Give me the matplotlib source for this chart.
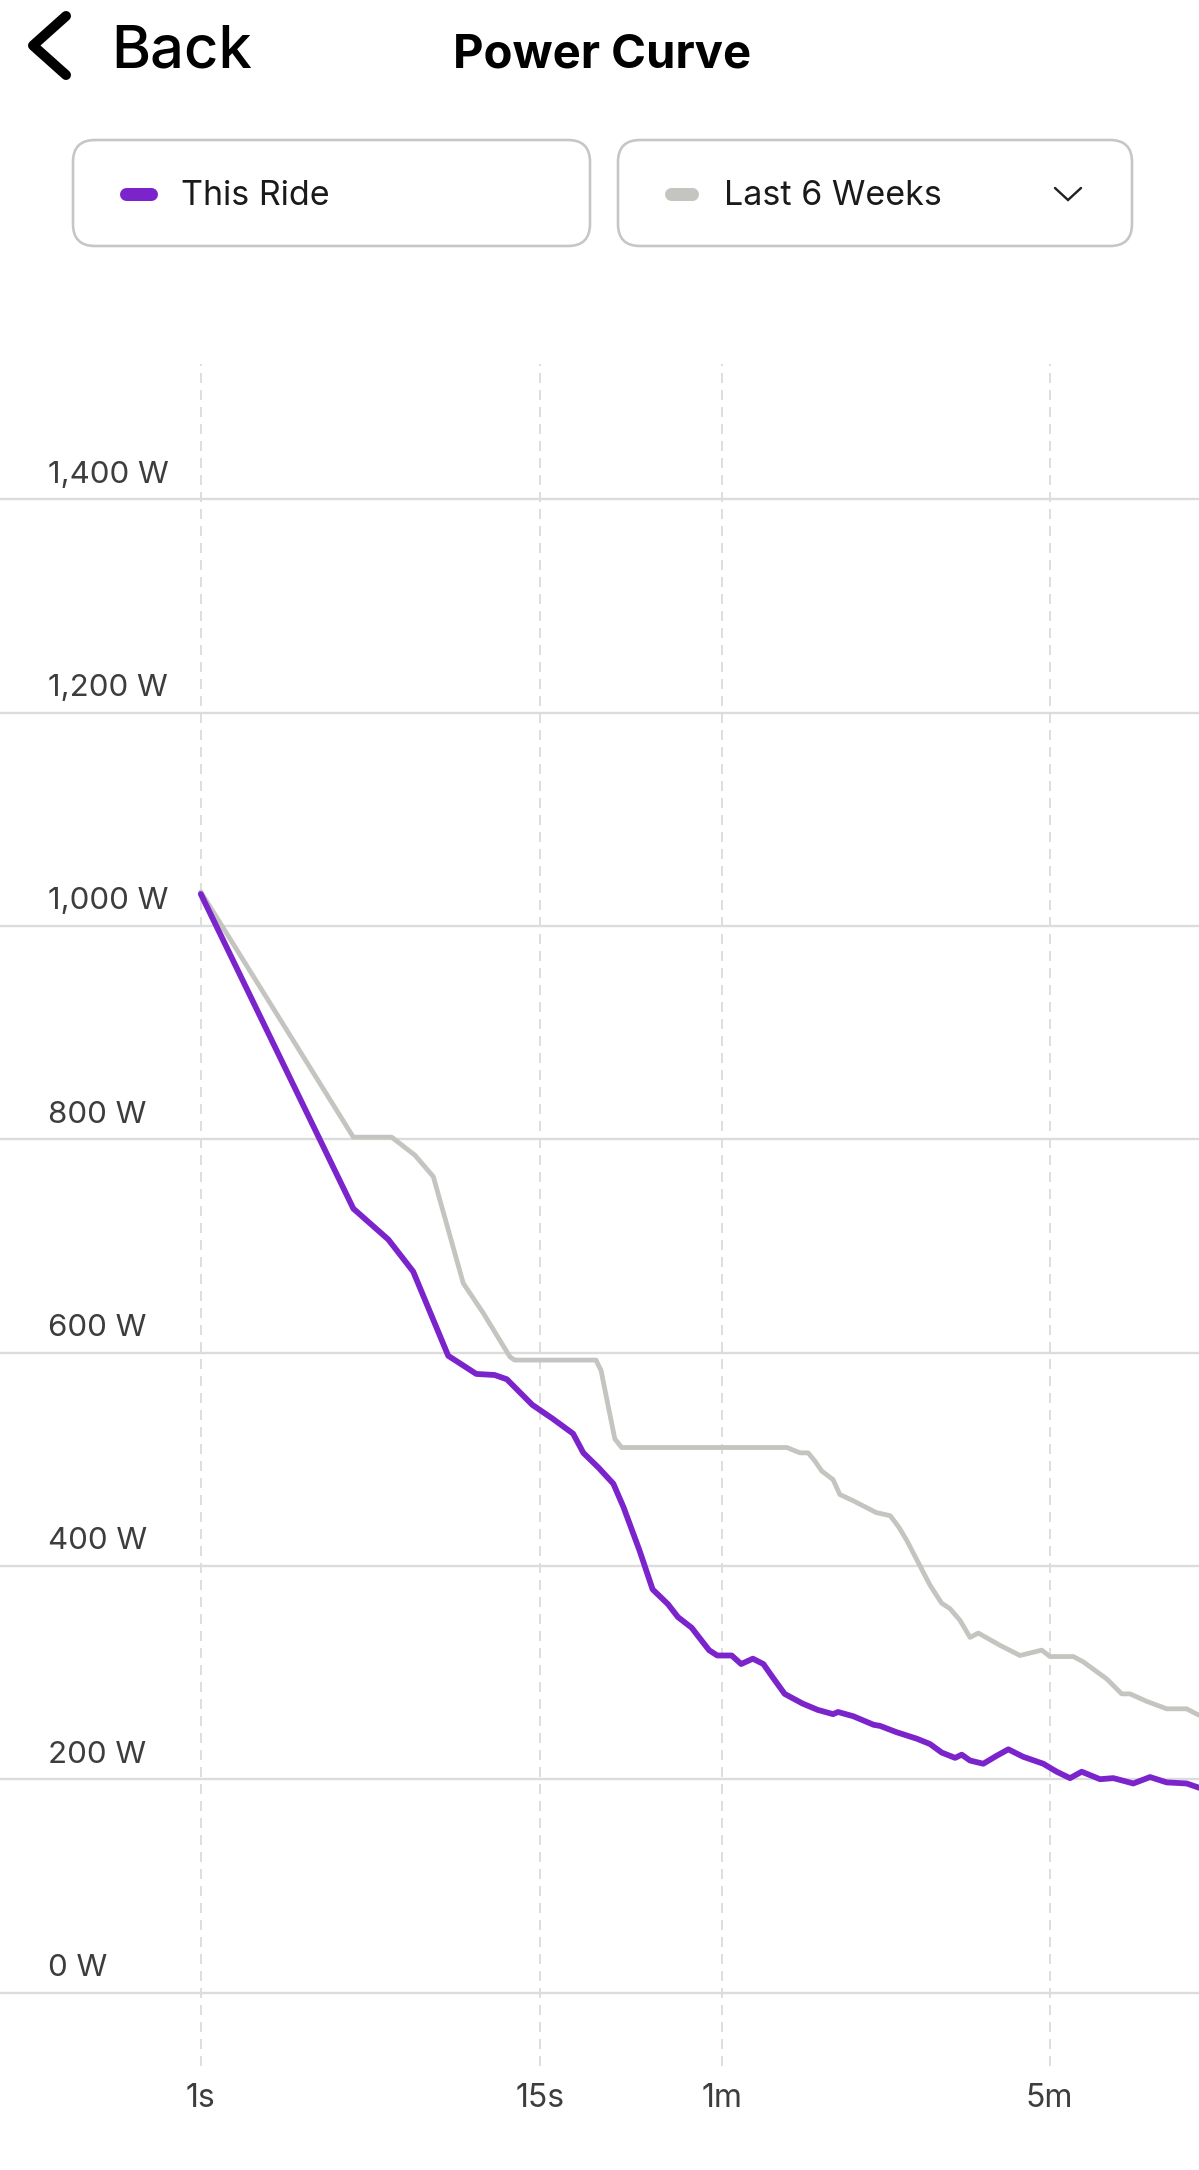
import numpy as np
import matplotlib
matplotlib.use('Agg')
import matplotlib.pyplot as plt
from matplotlib.patches import FancyBboxPatch
from matplotlib.transforms import blended_transform_factory

plt.rcParams['font.family'] = ['Inter', 'DejaVu Sans']

# ---------------- data ----------------
ride_seconds = [1.0, 3.38, 4.47, 5.45, 7.21, 9.02, 10.44, 11.51, 14.11, 16.52,
                19.29, 20.85, 23.42, 26.2, 28.3, 32.0, 35.3, 39.7, 42.8, 47.5,
                54.2, 57.7, 62.8, 65.8, 69.7, 73.4, 77.0, 81.5, 88.95, 95.9,
                103.4, 106.0, 114.3, 126.3, 130.3, 141.5, 156.1, 166.6, 176.5, 188.5,
                194.8, 202.9, 216.6, 231.4, 245.0, 263.7, 291.0, 310.9, 331.9, 351.5,
                384.7, 410.8, 453.1, 492.0, 534.0, 589.0, 626.0]
ride_watts = [1030, 735, 706, 676, 597, 580, 579, 575, 551, 538,
              524, 506, 492, 477, 455, 414, 378, 364, 352, 342,
              321, 316, 316, 308, 313, 308, 295, 280, 271, 265,
              261, 263, 259, 251, 250, 244, 238, 233, 225, 220,
              223, 217.5, 214.5, 222, 228, 221, 214.5, 207, 201, 207,
              200, 201, 196, 202, 197, 196, 192]

six_week_seconds = [1.0, 3.38, 4.59, 5.53, 6.40, 8.13, 9.54, 11.80, 12.24, 22.96,
                    23.87, 25.3, 26.5, 27.9, 82.4, 87.9, 91.5, 94.7, 97.8, 101.9,
                    103.4, 106.9, 114.3, 127.9, 137.1, 143.1, 148.6, 166.6, 176.5, 183.8,
                    193.1, 202.9, 211.4, 235.2, 259.5, 288.7, 300.8, 337.4, 354.3, 397.6,
                    428.0, 445.8, 484.0, 534.0, 589.0, 626.0]
six_week_watts = [1032, 802, 802, 785, 765, 665, 637, 596, 593, 593,
                  583, 547, 519, 511, 511, 506, 506, 498, 489, 483,
                  481, 467, 461, 450, 447, 436, 424, 382, 365, 360,
                  349, 333, 337, 325.5, 316, 321, 315, 315, 310, 294,
                  280, 280, 273, 266, 266, 260]

x_tick_seconds = [1, 15, 60, 300]
x_tick_labels = ['1s', '15s', '1m', '5m']
y_tick_watts = [0, 200, 400, 600, 800, 1000, 1200, 1400]
y_tick_labels = ['0 W', '200 W', '400 W', '600 W', '800 W', '1,000 W', '1,200 W', '1,400 W']
legend_labels = ['This Ride', 'Last 6 Weeks']
title_text = 'Power Curve'
back_text = 'Back'

# ---------------- style ----------------
PURPLE = '#7B24CC'
GRAY_LINE = '#C4C4C0'
TEXT = '#3d3d3d'

W, H = 1199, 2170
DPI = 100
PX = 72.0 / DPI  # points per pixel

fig = plt.figure(figsize=(W / DPI, H / DPI), dpi=DPI)
fig.patch.set_facecolor('white')

# piecewise-log duration scale (anchored on the tick durations)
_anchor_log = np.log10(np.array(x_tick_seconds, float))
_anchor_pos = np.array([0.0, 339.2, 521.6, 848.7])
_sl_left = (_anchor_pos[1] - _anchor_pos[0]) / (_anchor_log[1] - _anchor_log[0])
_sl_right = (_anchor_pos[-1] - _anchor_pos[-2]) / (_anchor_log[-1] - _anchor_log[-2])


def fwd(t):
    t = np.asarray(t, float)
    lt = np.log10(np.clip(t, 1e-9, None))
    p = np.interp(lt, _anchor_log, _anchor_pos)
    p = np.where(lt < _anchor_log[0], _anchor_pos[0] + (lt - _anchor_log[0]) * _sl_left, p)
    p = np.where(lt > _anchor_log[-1], _anchor_pos[-1] + (lt - _anchor_log[-1]) * _sl_right, p)
    return p


def inv(p):
    p = np.asarray(p, float)
    lt = np.interp(p, _anchor_pos, _anchor_log)
    lt = np.where(p < _anchor_pos[0], _anchor_log[0] + (p - _anchor_pos[0]) / _sl_left, lt)
    lt = np.where(p > _anchor_pos[-1], _anchor_log[-1] + (p - _anchor_pos[-1]) / _sl_right, lt)
    return 10 ** lt


ax_top_px, ax_bot_px = 364, 2066
ax = fig.add_axes([0, (H - ax_bot_px) / H, 1, (ax_bot_px - ax_top_px) / H])
ax.set_xscale('function', functions=(fwd, inv))
ax.set_xlim(float(inv(-200.8)), float(inv(998.2)))
ax.set_ylim(-(ax_bot_px - 1992.5) * 200 / 213.3, (1992.5 - ax_top_px) * 200 / 213.3)
for s in ax.spines.values():
    s.set_visible(False)

ax.set_yticks(y_tick_watts)
ax.yaxis.set_ticklabels([])
ax.set_xticks(x_tick_seconds)
ax.set_xticklabels(x_tick_labels)
ax.minorticks_off()
ax.tick_params(axis='y', length=0)
ax.tick_params(axis='x', length=0, pad=12, labelsize=23, labelcolor=TEXT)
ax.grid(axis='y', color='#dcdcdc', linewidth=2.4 * PX)
ax.grid(axis='x', color='#dedede', linewidth=2.0 * PX, linestyle=(0, (5, 3.5)))
ax.set_axisbelow(True)

ax.plot(six_week_seconds, six_week_watts, color=GRAY_LINE, linewidth=4.8 * PX,
        solid_joinstyle='round', solid_capstyle='round', zorder=3)
ax.plot(ride_seconds, ride_watts, color=PURPLE, linewidth=5.8 * PX,
        solid_joinstyle='round', solid_capstyle='round', zorder=4)

blend = blended_transform_factory(ax.transAxes, ax.transData)
for v, lbl in zip(y_tick_watts, y_tick_labels):
    ax.annotate(lbl, xy=(48 / W, v), xycoords=blend, xytext=(0, 16.5 * PX),
                textcoords='offset points', ha='left', va='baseline',
                fontsize=22.5, color=TEXT)

# ---------------- header / legend (pixel overlay) ----------------
ui = fig.add_axes([0, 0, 1, 1], zorder=5)
ui.set_xlim(0, W)
ui.set_ylim(H, 0)
ui.axis('off')
ui.patch.set_alpha(0)

ui.plot([66, 33, 66], [16, 45.5, 75], color='black', linewidth=10 * PX,
        solid_capstyle='round', solid_joinstyle='round')
ui.text(111, 67, back_text, fontsize=43, fontweight='medium', color='black', va='baseline', ha='left')
ui.text(602, 68, title_text, fontsize=34, fontweight='bold', color='black', va='baseline', ha='center')

for x0, wdt in [(73, 517), (618, 514)]:
    ui.add_patch(FancyBboxPatch((x0, 140), wdt, 106, boxstyle='round,pad=0,rounding_size=22',
                                facecolor='white', edgecolor='#c6c6c6', linewidth=2.6 * PX))

ui.plot([126, 151], [193.5, 193.5], color=PURPLE, linewidth=13 * PX, solid_capstyle='round')
ui.plot([670.5, 691.5], [193.5, 193.5], color=GRAY_LINE, linewidth=13 * PX, solid_capstyle='round')
ui.text(181, 205, legend_labels[0], fontsize=24.5, color='#1a1a1a', va='baseline', ha='left')
ui.text(724, 205, legend_labels[1], fontsize=24.5, color='#1a1a1a', va='baseline', ha='left')
ui.plot([1055, 1068, 1081], [188, 200, 188], color='#222222', linewidth=2.4 * PX,
        solid_capstyle='round', solid_joinstyle='miter')

fig.savefig('out.png', dpi=DPI, facecolor='white')
